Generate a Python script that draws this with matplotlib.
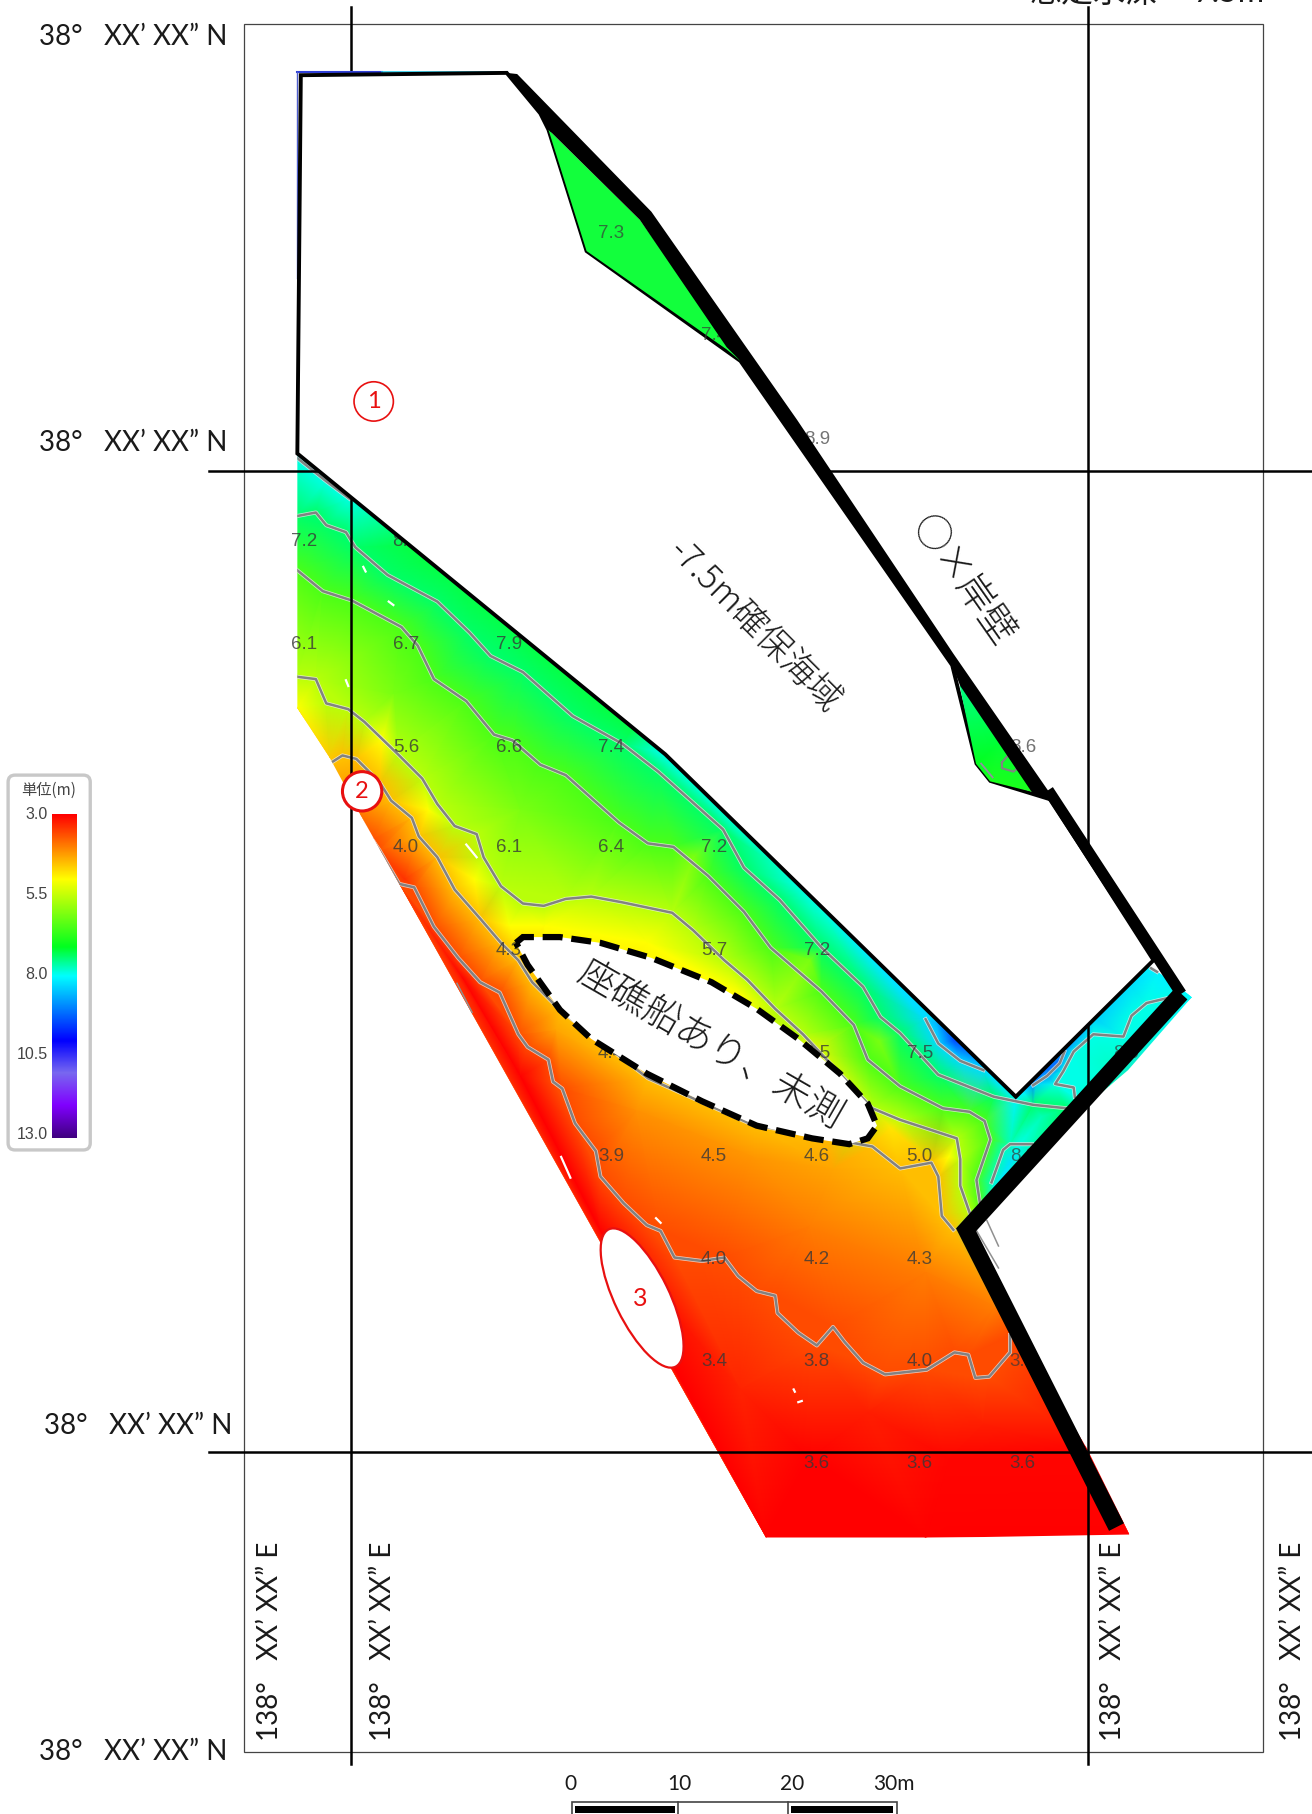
import numpy as np
import matplotlib
matplotlib.use("Agg")
import matplotlib.pyplot as plt
from matplotlib.colors import LinearSegmentedColormap
from matplotlib.patches import Polygon, Ellipse, Circle, Rectangle, FancyBboxPatch
from matplotlib.tri import Triangulation

plt.rcParams["font.family"] = ["Lato", "Noto Sans CJK JP", "DejaVu Sans"]

# contour lines, level is the depth used for the colour
c1 = [(322,726),(328,735),(345,764),(358,767),(375,801),(396,828),(415,849),(432,858),(448,894),(456,905),
      (474,916),(478,935),(486,941),(497,971),(515,995),(519,1017),(539,1040),(559,1059),(571,1064),(583,1087),
      (607,1090),(626,1087),(638,1103),(654,1116),(670,1120),(672,1135),(690,1152),(706,1163),(720,1147),(730,1160),
      (746,1178),(765,1188),(801,1184),(825,1169),(837,1171),(843,1191),(855,1190),(873,1169),(873,1154)]
c2 = [(285,660),(296,653),(308,656),(328,676),(338,692),(356,707),(362,723),(378,741),(393,769),(415,794),
      (433,815),(448,830),(460,849),(484,873),(560,932),(650,972),(754,991),(778,1010),(805,1005),(811,1017),
      (814,1051),(824,1063)]
c3 = [(257,585),(273,587),(282,608),(301,613),(315,624),(344,652),(365,673),(378,695),(393,714),(412,721),
      (418,741),(433,766),(452,781),(470,783),(489,777),(511,775),(538,780),(581,789),(599,804),(626,830),
      (646,847),(670,872),(694,894),(754,958),(778,968),(827,984),(830,1002),(830,1025),(838,1048)]
c4 = [(257,493),(279,511),(304,519),(347,542),(361,558),(375,587),(403,606),(427,635),(443,640),(467,661),
      (489,670),(535,711),(560,729),(582,732),(612,757),(643,788),(666,819),(710,857),(738,886),(750,916),
      (778,939),(815,958),(838,961),(851,969),(856,985),(844,1020),(847,1040)]
c5 = [(257,446),(273,443),(282,454),(299,460),(307,473),(335,497),(378,520),(406,547),(424,567),(452,581),
      (495,619),(538,643),(569,667),(625,717),(643,750),(674,778),(710,819),(746,853),(761,879),(778,893),
      (811,929),(859,948),(893,955),(922,958)]
c6 = [(257,396),(282,416),(302,431)]
c7 = [(800,881),(811,902),(830,917),(850,925)]
c8 = [(857,1022),(867,994),(873,989),(892,989)]
c9 = [(893,938),(905,930),(916,919),(920,909)]
c10 = [(929,948),(928,940),(912,937),(919,926),(928,909),(945,894),(971,896),(978,878),(991,867),(1008,863)]
c11 = [(995,837),(1000,840)]
contours = [c1, c2, c3, c4, c5, c6, c7, c8, c9, c10, c11]
levels = [3.6, 4.5, 5.6, 6.5, 7.4, 7.9, 8.3, 7.7, 8.8, 7.9, 8.1]

# extra depths between the lines
extra_x = [662,800,976,942,700,820,520,450,400,350,312,285,257,257,
           330,370,410,440,470,560,640,700,770,820,
           650,550,480,720,700,800,860,750,850,640,
           257,578,700,878,825,845,810,885,905,915,895,945,975,1000,1010,960,935,900,880,873,860,850,1030,
           340,450,600,700,760,400,560]
extra_y = [1329,1329,1326,1253,1260,1260,1065,930,845,760,705,655,612,392,
           640,700,760,800,800,815,860,910,975,1000,
           1000,960,890,1010,1060,1100,1130,1220,1230,1200,
           392,652,768,948,900,917,885,945,925,918,937,880,850,840,850,920,935,965,990,1005,1030,1045,862,
           600,700,740,830,900,470,610]
extra_v = [3.0,3.0,3.0,3.05,3.0,3.05,3.0,3.0,3.05,3.4,3.9,4.6,5.0,8.0,
           5.0,5.0,5.0,5.0,5.0,5.0,5.0,4.95,4.8,5.0,
           4.2,4.15,4.3,4.3,4.0,4.0,4.0,3.25,3.25,3.3,
           8.0,8.0,8.0,8.1,9.4,8.7,8.6,8.1,9.2,9.2,8.4,8.4,8.3,8.1,8.1,7.8,7.9,7.7,7.9,8.2,8.1,7.9,8.0,
           6.1,6.1,6.1,6.1,6.1,7.0,7.0]

survey = [(257,392),(578,652),(878,948),(997,830),(1030,862),(975,925),(948,948),(838,1062),(870,1135),(905,1195),
          (940,1253),(976,1326),(976,1329),(662,1329),(312,705),(285,655),(257,612)]
keep_clear = [(260,65),(438,63),(467,98),(474,112),(507,217),(640,312),(823,575),(844,660),(856,675),(908,691),(997,830),
              (878,948),(575,652),(257,392)]
green_top = [(474,112),(507,217),(628,302),(640,312),(553,190)]
green_low_x = [830,844,856,892,866]
green_low_y = [593,660,675,684,640]
green_low_v = [7.5,7.1,6.9,6.9,7.2]
wall_top = [(447,64),(563,183),(689,363),(824,565),(916,698),(908,692),(892,685),(830,593),(823,575),(817,565),(676,363),
            (640,312),(628,300),(553,190),(474,112),(467,98),(438,63)]
wall_arm = [(906,683),(1021,859)]
wall_low = [(1021,859),(835,1063),(965,1320)]
unsurveyed = [(446,815),(452,810),(484,810),(519,815),(563,828),(615,849),(654,872),(690,898),(726,928),(750,954),
              (758,973),(750,984),(734,989),(702,984),(654,973),(607,952),(559,928),(511,898),(484,873),(456,834)]

sound_x = [263,350,263,351,440,351,440,528,351,440,528,617,440,617,706,528,706,795,528,617,706,795,
           617,706,795,617,706,795,706,795,884]
sound_y = [468,468,557,557,557,646,646,646,733,733,733,733,822,822,822,911,911,911,1000,1000,1000,1000,
           1089,1089,1089,1177,1177,1177,1265,1265,1265]
sound_t = ["7.2","8.1","6.1","6.7","7.9","5.6","6.6","7.4","4.0","6.1","6.4","7.2","4.3","5.7","7.2","4.4","6.5","7.5",
           "3.9","4.5","4.6","5.0","4.0","4.2","4.3","3.4","3.8","4.0","3.6","3.6","3.6"]
# soundings that sit under the quay line
edge_x = [706,884,973,884,884]
edge_y = [380,646,911,1000,1177]
edge_t = ["8.9","8.6","8.9","8.3","3.9"]

bar_ticks = [3.0, 5.5, 8.0, 10.5, 13.0]
bar_labels = ["3.0", "5.5", "8.0", "10.5", "13.0"]
scale_labels = ["0", "10", "20", "30m"]
lat_labels = ["38°   XX’ XX” N"] * 4
lon_labels = ["138°   XX’ XX” E"] * 4

depth_map = LinearSegmentedColormap.from_list("depth", [
    (0.0, "#ff0000"), (0.1, "#ff8000"), (0.2, "#ffff00"), (0.41, "#00ff20"), (0.5, "#00ffff"),
    (0.7, "#0000ff"), (0.8, "#7868f0"), (0.9, "#8000ff"), (1.0, "#400080")])
jp = ["Noto Sans CJK JP", "DejaVu Sans"]


def main():
    fig = plt.figure(figsize=(13.12, 18.14), dpi=100)
    ax = fig.add_axes([0, 0, 1, 1])
    ax.set_axis_off()

    # survey surface
    clip = Polygon(survey, closed=True, fc="none", ec="none")
    ax.add_patch(clip)
    xs, ys, zs = list(extra_x), list(extra_y), list(extra_v)
    for line, lev in zip(contours, levels):
        for px, py in line:
            xs.append(px); ys.append(py); zs.append(lev)
    tri = Triangulation(xs, ys)
    mesh = ax.tripcolor(tri, zs, shading="gouraud", cmap=depth_map, vmin=3, vmax=13, zorder=1)
    mesh.set_clip_path(clip)

    for line in contours:
        lx = [p[0] for p in line]
        ly = [p[1] for p in line]
        l1, = ax.plot(lx, ly, color="#efefef", lw=2.9, alpha=0.75, zorder=2, solid_joinstyle="round")
        l2, = ax.plot(lx, ly, color="#828282", lw=1.8, zorder=2.1, solid_joinstyle="round")
        l1.set_clip_path(clip)
        l2.set_clip_path(clip)

    # specks and stray bits of the survey
    for sx, sy in [((485,493),(1000,1018)), ((403,412),(730,741)), ((299,301),(588,593)), ((314,316),(490,494)),
                   ((336,340),(520,523)), ((567,571),(1053,1057)), ((686,687),(1201,1203)), ((690,693),(1212,1211))]:
        ax.plot(sx, sy, color="white", lw=1.6, zorder=2.2)
    for sx, sy in [((853,863),(1055,1077)), ((843,863),(1062,1096)), ((395,408),(850,875))]:
        ax.plot(sx, sy, color="#909090", lw=1.1, zorder=2.2)

    for tx, ty, t in zip(sound_x, sound_y, sound_t):
        txt = ax.text(tx, ty, t, fontsize=13.5, color="#383838", alpha=0.8, ha="center", va="center",
                      family="Liberation Sans", zorder=2.5)
        if tx < 270:
            txt.set_clip_path(clip)
            txt.set_clip_on(True)

    # frame and graticule
    ax.add_patch(Rectangle((211, 21), 881, 1493, fc="none", ec="#444444", lw=0.9, zorder=0.5))
    for gy in [407, 1255]:
        ax.plot([181, 1134], [gy, gy], color="black", lw=1.8, zorder=3)
    for gx in [303, 940.5]:
        ax.plot([gx, gx], [6, 1525], color="black", lw=1.8, zorder=3)

    # faint traces round the top of the dredged area
    ax.plot([257, 330], [62, 62], color="#3040d8", lw=1.5, zorder=3.5)
    ax.plot([330, 438], [62, 62], color="#20c8e8", lw=1.2, zorder=3.5)
    ax.plot([257, 257], [62, 240], color="#5060d0", lw=1.0, zorder=3.5)

    # dredged area and quay
    ax.add_patch(Polygon(keep_clear, closed=True, fc="white", ec="black", lw=2.8, zorder=4))
    ax.add_patch(Polygon(green_top, closed=True, fc="#12ff3c", ec="none", zorder=4.1))
    low = ax.tripcolor(green_low_x, green_low_y, green_low_v, shading="gouraud", cmap=depth_map, vmin=3, vmax=13, zorder=4.1)
    top_clip = Polygon(green_top, closed=True, fc="none", ec="none")
    ax.add_patch(top_clip)
    ax.text(528, 202, "7.3", fontsize=13.5, color="#383838", alpha=0.7, ha="center", va="center",
            family="Liberation Sans", zorder=4.2)
    txt = ax.text(617, 290, "7.4", fontsize=13.5, color="#383838", alpha=0.7, ha="center", va="center",
                  family="Liberation Sans", zorder=4.2)
    txt.set_clip_path(top_clip)
    txt.set_clip_on(True)
    ax.plot([866,872,880,884,876,866,866], [659,652,652,660,667,664,659], color="#828282", lw=1.5, zorder=4.2)
    ax.plot([848,858], [660,672], color="#9090a0", lw=1.3, zorder=4.2)
    for tx, ty, t in zip(edge_x, edge_y, edge_t):
        ax.text(tx, ty, t, fontsize=13.5, color="#383838", alpha=0.7, ha="center", va="center",
                family="Liberation Sans", zorder=4.5)
    ax.add_patch(Polygon(wall_top, closed=True, fc="black", ec="none", zorder=5))
    ax.plot([p[0] for p in wall_arm], [p[1] for p in wall_arm], color="black", lw=8, zorder=5, solid_capstyle="butt")
    ax.plot([p[0] for p in wall_low], [p[1] for p in wall_low], color="black", lw=12, zorder=5,
            solid_joinstyle="miter", solid_capstyle="butt")

    ax.add_patch(Polygon(unsurveyed, closed=True, fc="white", ec="black", lw=4.5, ls=(0, (3.2, 1.4)), zorder=5))
    ax.text(614, 903, "座礁船あり、未測", fontsize=27, rotation=-30, rotation_mode="anchor", ha="center", va="center",
            color="#1a1a1a", family=jp, fontweight="light", zorder=6)
    ax.text(652, 541, "-7.5m確保海域", fontsize=25, rotation=-45, rotation_mode="anchor", ha="center", va="center",
            color="#1a1a1a", family=jp, fontweight="light", zorder=6)
    ax.text(832, 502, "○×岸壁", fontsize=27, rotation=-55, rotation_mode="anchor", ha="center", va="center",
            color="#1a1a1a", family=jp, fontweight="light", zorder=6)

    # numbered marks
    ax.add_patch(Ellipse((555, 1122), 132, 47, angle=64, fc="white", ec="#e81010", lw=1.6, zorder=5))
    ax.text(553, 1122, "3", fontsize=18, color="#e81010", ha="center", va="center", zorder=6)
    ax.add_patch(Circle((323, 347), 17, fc="white", ec="#e81010", lw=1.2, zorder=6))
    ax.text(323, 347, "1", fontsize=17, color="#e81010", ha="center", va="center", zorder=7)
    ax.add_patch(Circle((313, 684), 17, fc="white", ec="#e81010", lw=2.2, zorder=6))
    ax.text(313, 684, "2", fontsize=17, color="#e81010", ha="center", va="center", zorder=7)

    # coordinate labels
    for (lx, ly), t in zip([(34, 32), (34, 383), (38, 1233), (34, 1514)], lat_labels):
        ax.text(lx, ly, t, fontsize=20, color="#1a1a1a", ha="left", va="center", zorder=7)
    for lx, t in zip([233, 331, 962, 1118], lon_labels):
        ax.text(lx, 1505, t, fontsize=20, color="#1a1a1a", rotation=90, ha="center", va="bottom", zorder=7)
    ax.text(890, 7, "想定水深", fontsize=23, color="#1a1a1a", ha="left", va="bottom", zorder=7)
    ax.text(1093, 7, "7.5m", fontsize=23, color="#1a1a1a", ha="right", va="bottom", zorder=7)

    # scale bar
    for lx, t in zip([493, 587, 685, 773], scale_labels):
        ax.text(lx, 1542, t, fontsize=15, color="#1a1a1a", ha="center", va="center", zorder=7)
    ax.add_patch(Rectangle((494, 1558), 281, 12, fc="white", ec="#444444", lw=1.2, zorder=6))
    ax.plot([586, 586], [1558, 1570], color="#444444", lw=1.2, zorder=7)
    ax.plot([681, 681], [1558, 1570], color="#444444", lw=1.2, zorder=7)
    ax.add_patch(Rectangle((497, 1561), 86, 6, fc="black", ec="none", zorder=7))
    ax.add_patch(Rectangle((684, 1561), 88, 6, fc="black", ec="none", zorder=7))

    # colour legend
    ax.add_patch(FancyBboxPatch((7, 670), 71, 324, boxstyle="round,pad=0,rounding_size=6",
                                fc="white", ec="#c8c8c8", lw=2.4, zorder=6))
    ramp = np.linspace(3, 13, 256).reshape(-1, 1)
    ax.imshow(ramp, cmap=depth_map, vmin=3, vmax=13, extent=(45, 66, 984, 704), aspect="auto", zorder=7)
    ax.text(42, 683, "単位(m)", fontsize=11, color="#444444", ha="center", va="center", family=jp, zorder=7)
    for v, t in zip(bar_ticks, bar_labels):
        ty = 704 + (v - 3) / 10 * 277
        ax.text(41, ty, t, fontsize=11.5, color="#444444", ha="right", va="center",
                family="Liberation Sans", zorder=7)

    ax.set_xlim(0, 1134)
    ax.set_ylim(1568, 0)
    fig.savefig("out.png", dpi=100, facecolor="white")


if __name__ == "__main__":
    main()
